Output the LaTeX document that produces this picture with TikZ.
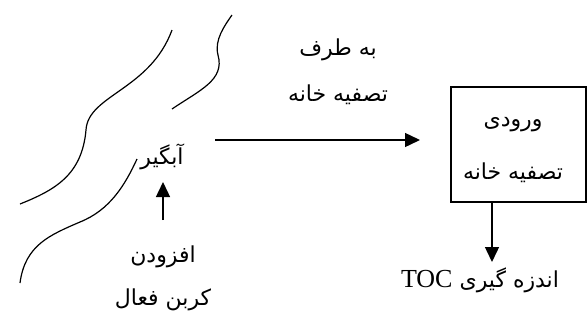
\documentclass[tikz,border=0pt]{standalone}
\usepackage{fontspec}
\setmainfont{Liberation Serif}
\newfontfamily\arabicfont[Script=Arabic]{DejaVu Sans}
\TeXXeTstate=1
\usetikzlibrary{arrows.meta}

\begin{document}
\begin{tikzpicture}[x=1pt,y=-1pt,line width=1.4pt]

\tikzset{fa/.style={font=\fontsize{22}{25}\selectfont\arabicfont, inner sep=1pt},
flow/.style={-{Triangle[length=15pt,width=14pt]}},
%the river banks
bank/.style={line width=1.2pt}}

\newcommand{\rtl}[1]{\beginR #1\endR}

\useasboundingbox (0,0) rectangle (587,322);

% river banks
\draw [bank] (20,204) .. controls (55,190) and (82,175) .. (86,130) .. controls (88,95) and (150,90) .. (172,30);
\draw [bank] (172,109) .. controls (200,90) and (225,80) .. (218,55) .. controls (214,40) and (225,25) .. (232,15);
\draw [bank] (20,283) .. controls (25,245) and (50,235) .. (80,222) .. controls (110,210) and (125,185) .. (137,159);

\node [fa] (lake) at (162,157) {\rtl{آبگیر}};
\node [fa] (add) at (163,257) {\rtl{افزودن}};
\node [fa] (carbon) at (163,300) {\rtl{کربن فعال}};

\node [fa] (toward) at (338,50) {\rtl{به طرف}};
\node [fa] (plant) at (338,95) {\rtl{تصفیه خانه}};

\node [draw, minimum width=135pt, minimum height=115pt] (inlet) at (518.5,144.5) {};
\node [fa] (inleta) at (513,125) {\rtl{ورودی}};
\node [fa] (inletb) at (513,173) {\rtl{تصفیه خانه}};

\node [fa] (toc) at (480,280) {\rtl{اندزه گیری \beginL{\rmfamily\fontsize{26}{28}\selectfont TOC}\endL}};

\coordinate (riv) at (215,140);
\coordinate (toplant) at (420,140);
\coordinate (tocin) at (492,262);
\coordinate (addtip) at (163,182);

\draw [flow] (riv) -- (toplant);
\draw [flow] (add.north |- 0,220) -- (addtip);
\draw [flow] (tocin |- inlet.south) -- (tocin);

\end{tikzpicture}
\end{document}
